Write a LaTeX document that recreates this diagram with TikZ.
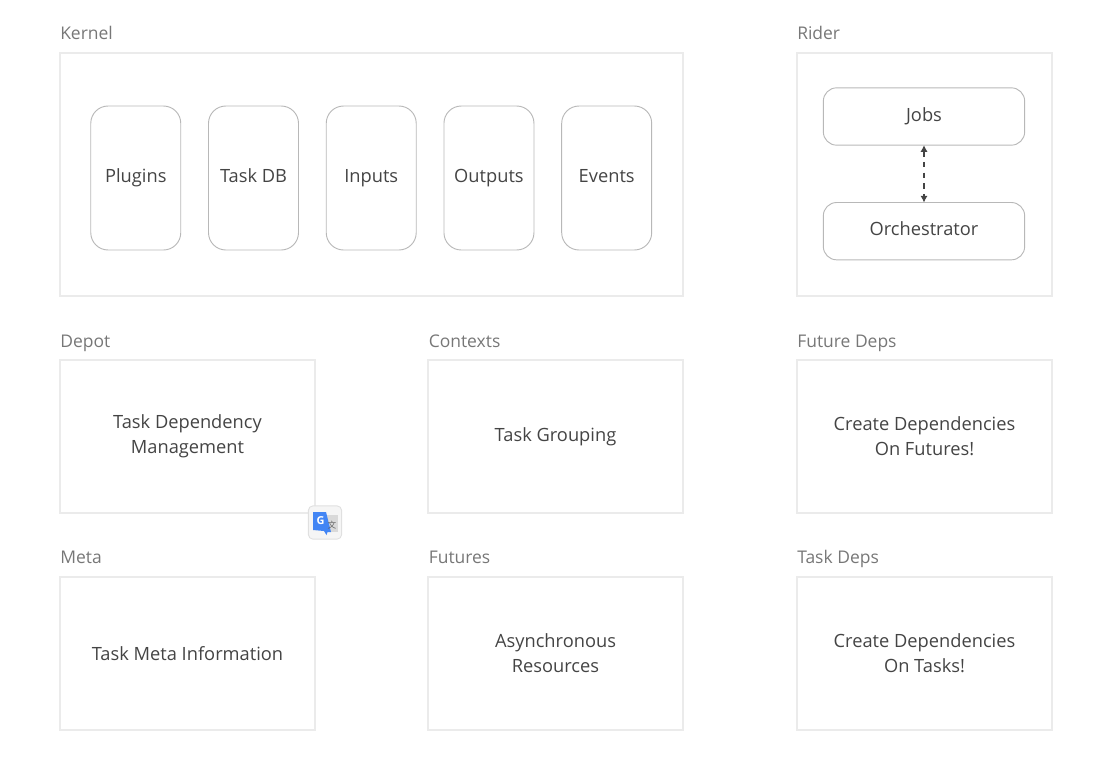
\documentclass[tikz,border=0pt]{standalone}
\usepackage{fontspec}
\setmainfont{Open Sans}
\newfontfamily\cjkfont{Noto Sans CJK SC}
\usepackage{xcolor}
\usepackage{tikz}
\usetikzlibrary{arrows.meta,positioning}
\definecolor{framegray}{HTML}{EBEBEB}
\definecolor{boxgray}{HTML}{B8B8B8}
\definecolor{titlegray}{HTML}{777777}
\definecolor{textgray}{HTML}{444444}
\definecolor{badgeblue}{HTML}{4285F4}
\tikzset{
  >={Latex[length=5pt,width=5.5pt]},
  panel/.style={draw=framegray, line width=1.2pt, outer sep=0pt, text=textgray, align=center, font=\fontsize{13.7pt}{18.7pt}\selectfont, minimum width=191.25pt, minimum height=114.75pt},
  bigpanel/.style={panel, minimum height=182.25pt},
  title/.style={text=titlegray, inner sep=0pt, anchor=base west, font=\fontsize{13.1pt}{15pt}\selectfont},
  tallbox/.style={draw=boxgray, line width=.7pt, rounded corners=13pt, outer sep=0pt, text=textgray, inner sep=0pt, text height=10.5pt, text depth=3.5pt, font=\fontsize{13.7pt}{16pt}\selectfont, minimum width=67.5pt, minimum height=108pt},
  widebox/.style={tallbox, rounded corners=10pt, minimum width=151pt, minimum height=43pt},
}
\begin{document}
\begin{tikzpicture}[x=.75pt, y=-.75pt, node distance=20.8pt]
  \useasboundingbox (0,0) rectangle (1114,782);
  % top row
  \node[bigpanel, minimum width=467.25pt] (kernel) at (371.5,174.5) {};
  \node[bigpanel] (rider) at (924.5,174.5) {};
  \node[tallbox] (taskdb) at (253.5,178) {Task DB};
  \node[tallbox, left=of taskdb] (plugins) {Plugins};
  \node[tallbox, right=of taskdb] (inputs) {Inputs};
  \node[tallbox, right=of inputs] (outputs) {Outputs};
  \node[tallbox, right=of outputs] (events) {Events};
  \node[widebox] (jobs) at (924,116.5) {Jobs};
  \node[widebox, below=43pt of jobs] (orch) {Orchestrator};
  \draw[<->, textgray, line width=1pt, dash pattern=on 4pt off 4pt] (jobs) -- (orch);
  % middle row
  \node[panel, yshift=.5pt] (depot) at (187.5,437) {Task Dependency\\Management};
  \node[panel, yshift=.5pt] (contexts) at (555.5,437) {Task Grouping};
  \node[panel, yshift=.5pt] (futdeps) at (924.5,437) {Create Dependencies\\On Futures!};
  % bottom row
  \node[panel] (meta) at (187.5,653.5) {Task Meta Information};
  \node[panel] (futures) at (555.5,653.5) {Asynchronous\\Resources};
  \node[panel] (taskdeps) at (924.5,653.5) {Create Dependencies\\On Tasks!};
  % titles
  \node[title] (tkernel) at (60,39) {Kernel};
  \node[title] (trider) at (797,39) {Rider};
  \node[title] (tdepot) at (60,347) {Depot};
  \node[title] (tcontexts) at (428.5,347) {Contexts};
  \node[title] (tfutdeps) at (797,347) {Future Deps};
  \node[title] (tmeta) at (60,563) {Meta};
  \node[title] (tfutures) at (428.5,563) {Futures};
  \node[title] (ttaskdeps) at (797,563) {Task Deps};
  % translate badge
  \node[draw=black!12, fill=black!4, line width=.7pt, rounded corners=3.5pt, minimum size=25pt, inner sep=0pt] (badge) at (325,522.5) {};
  \fill[black!15] (325,515) rectangle (337.5,532);
  \fill[badgeblue] (313,512) -- (326,512) -- (331,532) -- (327.5,532) -- (326.5,535) -- (324,531) -- (313,530) -- cycle;
  \node[text=white, inner sep=0pt, font=\bfseries\fontsize{8.2pt}{9pt}\selectfont] (glabel) at (320.5,521) {G};
  \node[text=black!60, inner sep=0pt, font=\cjkfont\fontsize{6.5pt}{8pt}\selectfont] (tlabel) at (332,525) {文};
\end{tikzpicture}
\end{document}
